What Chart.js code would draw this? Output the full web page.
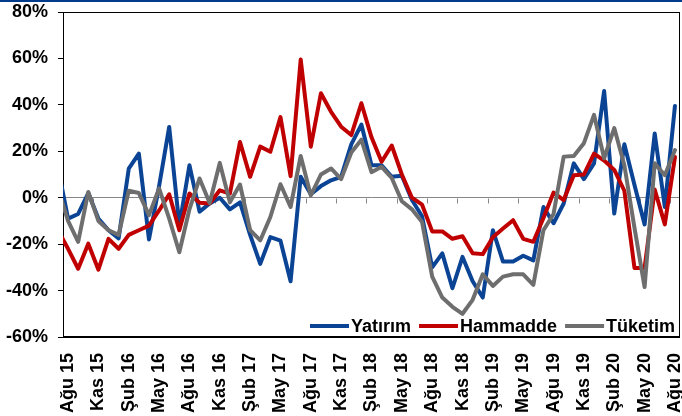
<!DOCTYPE html>
<html lang="tr">
<head>
<meta charset="utf-8">
<title>Yatırım, Hammadde, Tüketim</title>
<script src="https://cdn.jsdelivr.net/npm/chart.js@4.4.1/dist/chart.umd.min.js"></script>
<style>
  html, body { margin: 0; padding: 0; background: #fff; }
  canvas { display: block; }
</style>
</head>
<body>
<canvas id="grafik" width="682" height="416"></canvas>
<script>
// Yıllık değişim (%), Tem 15 - Ağu 20. İlk değer (Tem 15) sol kenarda kırpılıyor.
const yatirim = [
  13, -9, -7, 2, -9, -14, -17.5, 12.5, 19, -18, 5, 30.5, -12,
  14, -6, -2.5, 0, -5, -2, -16, -28.5, -17, -18.5, -36, 9,
  1.5, 5, 7.5, 9, 23, 31.5, 14, 14, 9, 9.5, -1, -8,
  -30, -24, -39, -25.5, -36, -43, -14, -27.5, -27.5, -25, -27, -4,
  -11, -2.5, 14.8, 8, 14.8, 46, -6.8, 23, 5.5, -11.5, 27.7, -4,
  39.5
];
const hammadde = [
  -14, -22, -30.6, -19.8, -31, -17.7, -22, -16, -14, -12, -5.5, 1.5, -14,
  1.8, -2.2, -2.5, 3.2, 1.8, 24, 9, 22, 19.8, 34.7, 9.3, 59.5,
  22, 45, 37, 30.6, 27, 40.7, 26, 15.5, 22.5, 10, 0, -3,
  -14.5, -14.5, -17.7, -16.6, -23.9, -24.3, -17, -13.3, -9.7, -17.7, -19, -8.7,
  2.2, -1, 9.7, 10, 19, 16, 12, 3, -30.3, -30.3, 3.5, -11.5,
  17.5
];
const tuketim = [
  4, -10, -19, 2.5, -10, -14, -16, 3, 2, -7.5, 4, -9, -23.5,
  -5, 8.3, -2.3, 15, -2, 5.7, -14, -18.4, -8.3, 5.8, -4, 18,
  1, 10, 12.6, 8, 19.5, 25, 11, 13.3, 8.5, -1.5, -5, -10.5,
  -34, -43, -47, -50, -44, -33, -38, -34, -33, -33, -37.5, -14,
  -7, 17.7, 18, 23.5, 35.7, 17, 30, 14, -13, -38.5, 14.8, 9.7,
  20.5
];
const seriAdlari = ["Yatırım", "Hammadde", "Tüketim"];
const eksenEtiketleri = [
  "Ağu 15", "Kas 15", "Şub 16", "May 16", "Ağu 16", "Kas 16", "Şub 17",
  "May 17", "Ağu 17", "Kas 17", "Şub 18", "May 18", "Ağu 18", "Kas 18",
  "Şub 19", "May 19", "Ağu 19", "Kas 19", "Şub 20", "May 20", "Ağu 20"
];

const seriler = [yatirim, hammadde, tuketim];
const renkler = ["#0b4494", "#c00000", "#6e6e6e"];
const yazi = "bold 18px 'Liberation Sans', Arial, sans-serif";

// x = Ağu 15'ten itibaren ay sırası
const noktalar = (seri) => seri.map((v, i) => ({ x: i - 1, y: v }));

Chart.defaults.font.family = "'Liberation Sans', Arial, sans-serif";
Chart.defaults.font.size = 18;
Chart.defaults.font.weight = "bold";
Chart.defaults.color = "#000";

// çerçeve, sıfır çizgisi çentikleri, lejant
const suslemeler = {
  id: "suslemeler",
  beforeDraw(chart) {
    const ctx = chart.ctx;
    ctx.save();
    ctx.fillStyle = "#003b8e";
    ctx.fillRect(0, 0, chart.width, 2);
    ctx.restore();
  },
  beforeDatasetsDraw(chart) {
    const { ctx, chartArea: a, scales: { x, y } } = chart;
    const y0 = Math.round(y.getPixelForValue(0)) + 0.5;
    ctx.save();
    ctx.strokeStyle = "#868686";
    ctx.lineWidth = 1;
    ctx.beginPath();
    for (let k = 0; k <= 60; k += 3) {
      const px = Math.round(x.getPixelForValue(k - 0.5)) + 0.5;
      ctx.moveTo(px, y0);
      ctx.lineTo(px, y0 + 5);
    }
    ctx.stroke();
    ctx.strokeStyle = "#000";
    ctx.strokeRect(Math.round(a.left) + 0.5, Math.round(a.top) + 0.5,
      Math.round(a.width) - 1, Math.round(a.height) - 1);
    ctx.lineWidth = 2;
    ctx.beginPath();
    ctx.moveTo(a.left, Math.round(a.bottom));
    ctx.lineTo(a.right, Math.round(a.bottom));
    ctx.stroke();
    ctx.restore();
  },
  afterDatasetsDraw(chart) {
    const ctx = chart.ctx;
    const ly = 326;
    let lx = 310;
    ctx.save();
    ctx.font = yazi;
    ctx.textBaseline = "middle";
    seriAdlari.forEach((ad, k) => {
      ctx.strokeStyle = renkler[k];
      ctx.lineWidth = 4;
      ctx.beginPath();
      ctx.moveTo(lx, ly);
      ctx.lineTo(lx + 39, ly);
      ctx.stroke();
      ctx.fillStyle = "#000";
      ctx.fillText(ad, lx + 41, ly + 1);
      lx += 41 + ctx.measureText(ad).width + 8;
    });
    ctx.restore();
  }
};

new Chart(document.getElementById("grafik"), {
  type: "line",
  data: {
    datasets: seriAdlari.map((ad, k) => ({
      label: ad,
      data: noktalar(seriler[k]),
      borderColor: renkler[k],
      borderWidth: 4,
      borderJoinStyle: "round",
      borderCapStyle: "round",
      pointRadius: 0,
      tension: 0,
      order: 2 - k,
    })),
  },
  options: {
    responsive: false,
    animation: false,
    layout: { padding: { top: 12, right: 2, left: 0, bottom: 0 } },
    plugins: {
      legend: { display: false },
      tooltip: { enabled: false },
    },
    scales: {
      x: {
        type: "linear",
        min: -0.5,
        max: 60.5,
        grid: { display: false },
        border: { display: false },
        afterBuildTicks: (s) => {
          s.ticks = eksenEtiketleri.map((_, k) => ({ value: k * 3 }));
        },
        afterFit: (s) => {
          s.height = 79;
          s.paddingLeft = 0;
          s.paddingRight = 0;
        },
        ticks: {
          autoSkip: false,
          minRotation: 90,
          maxRotation: 90,
          padding: 8,
          callback: (v) => eksenEtiketleri[v / 3],
        },
      },
      y: {
        min: -60,
        max: 80,
        border: { display: false },
        grid: {
          color: (c) => (c.tick.value === 0 ? "#868686" : "rgba(0,0,0,0)"),
          tickColor: "#000",
          tickLength: 5,
        },
        afterFit: (s) => {
          s.width = 63;
          s.paddingTop = 0;
          s.paddingBottom = 0;
        },
        ticks: {
          stepSize: 20,
          padding: 10,
          callback: (v) => v + "%",
        },
      },
    },
  },
  plugins: [suslemeler],
});
</script>
</body>
</html>
